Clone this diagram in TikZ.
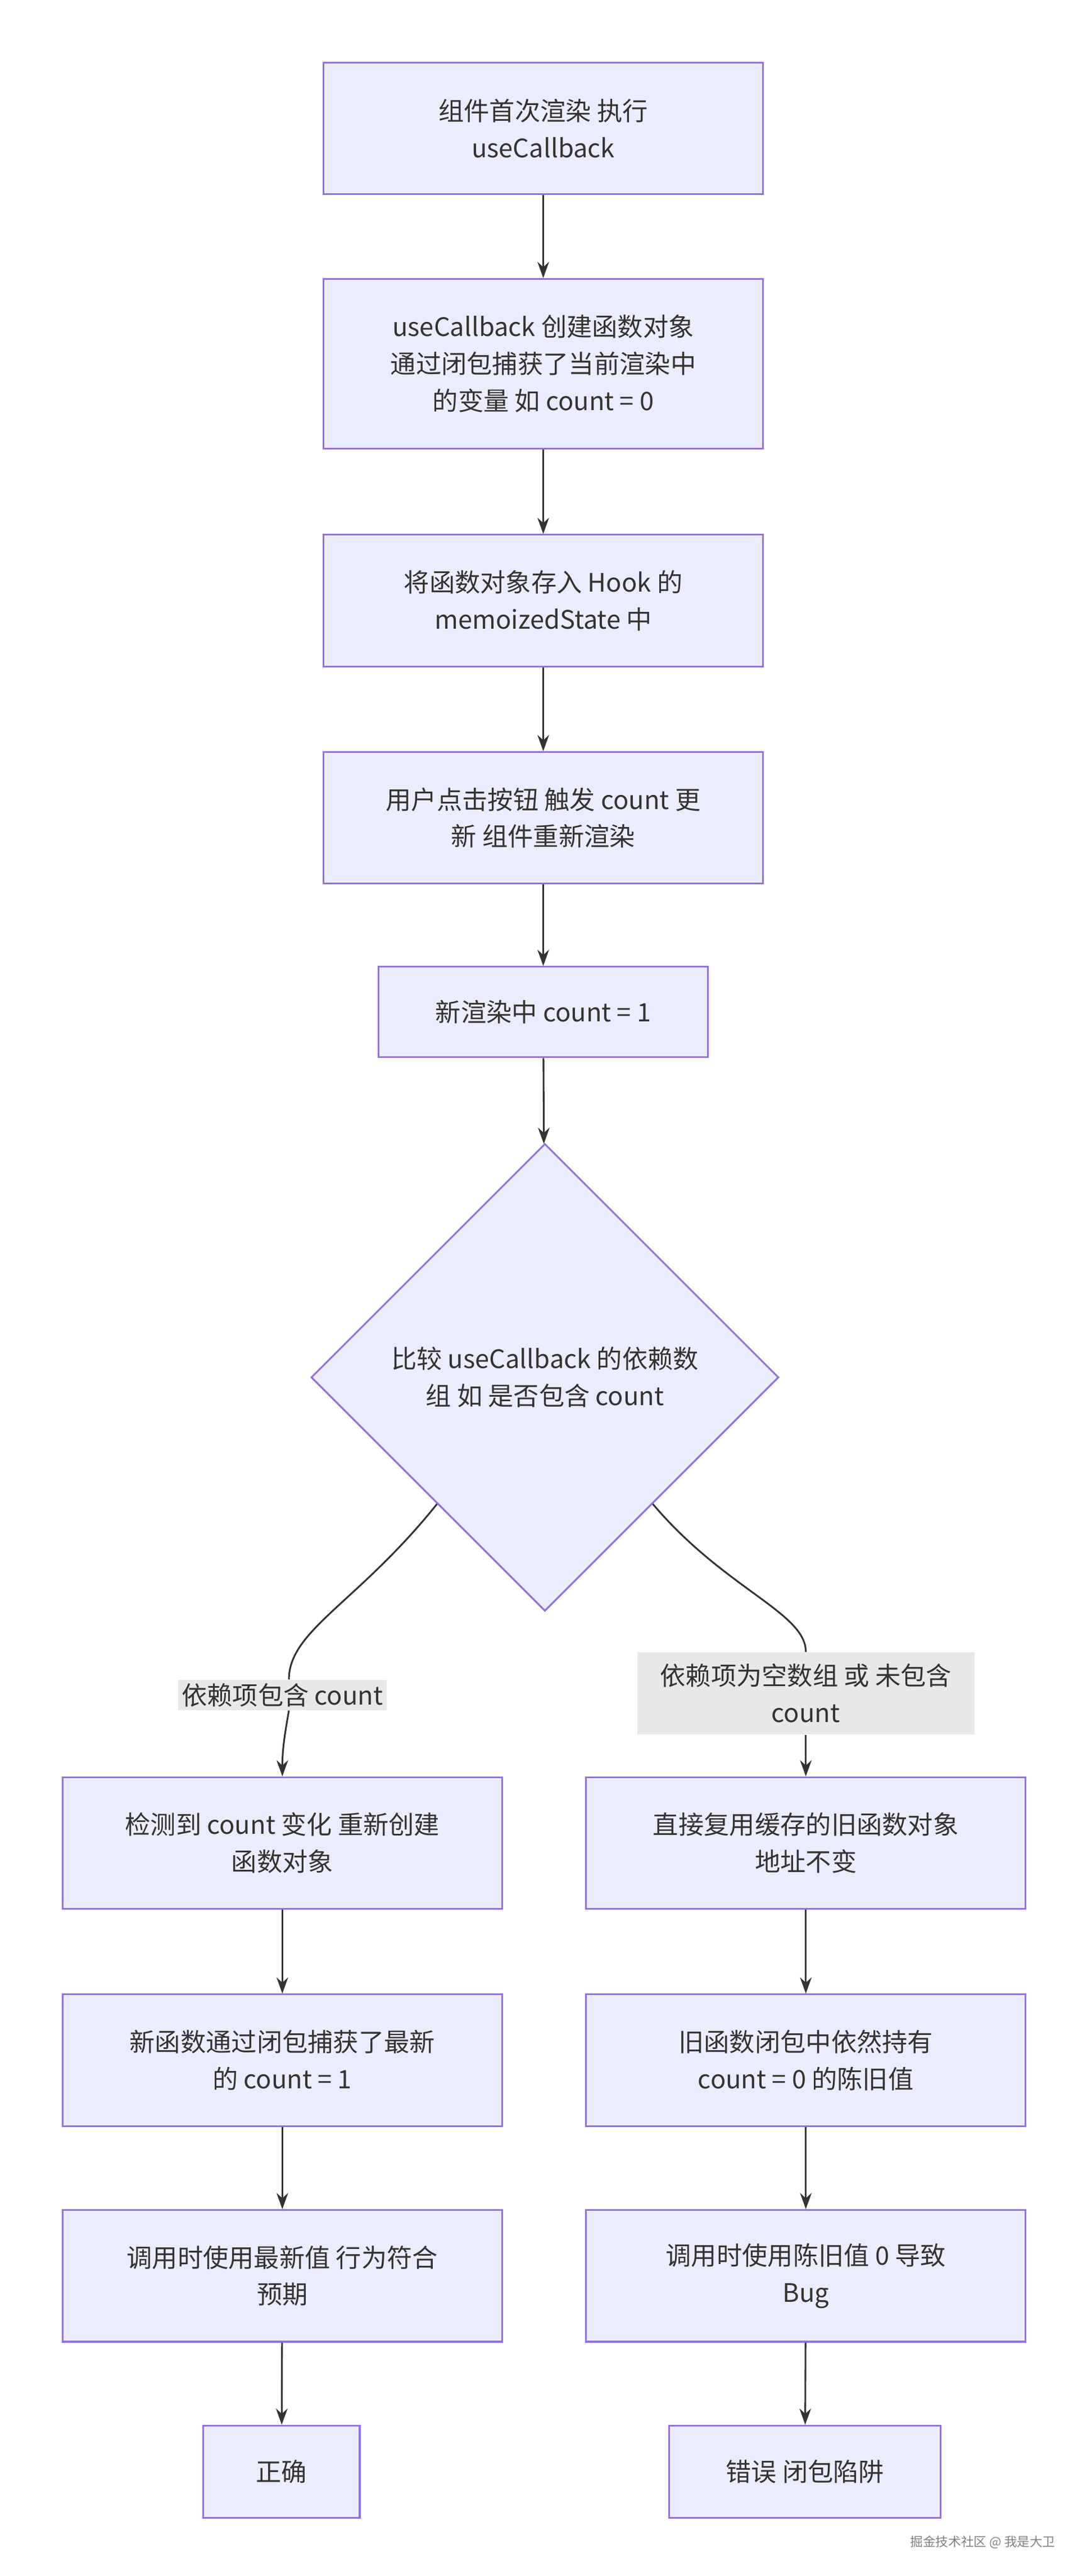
\documentclass[tikz,border=0pt]{standalone}
\usepackage{fontspec}
\setmainfont{Noto Sans CJK SC}
\usetikzlibrary{shapes.geometric,arrows.meta,calc}
\definecolor{boxfill}{HTML}{ECECFF}
\definecolor{boxline}{HTML}{9370DB}
\definecolor{txt}{HTML}{333333}
\definecolor{lblbg}{HTML}{E8E8E8}
\begin{document}
\begin{tikzpicture}[
  every node/.style = {text=txt, font=\fontsize{22}{32}\selectfont, align=center},
  box/.style = {rectangle, draw=boxline, fill=boxfill, line width=1.5pt, minimum width=13.35cm, minimum height=4cm},
  small/.style = {box, minimum width=10cm, minimum height=2.75cm},
  lbl/.style = {fill=lblbg, inner sep=3pt},
  link/.style = {draw=txt, line width=1.5pt},
  arr/.style = {link, -{Stealth[length=14pt,width=10pt]}}]
\useasboundingbox (0,0) rectangle (33,-78.27);
% main column
\node[box] (a) at (16.5,-3.9) {组件首次渲染 执行\\useCallback};
\node[box, minimum height=5.15cm] (b) at (16.5,-11.05) {useCallback 创建函数对象\\通过闭包捕获了当前渲染中\\的变量 如 count = 0};
\node[box] (c) at (16.5,-18.25) {将函数对象存入 Hook 的\\memoizedState 中};
\node[box] (e) at (16.5,-24.85) {用户点击按钮 触发 count 更\\新 组件重新渲染};
\node[small] (f) at (16.5,-30.75) {新渲染中 count = 1};
\node[diamond, draw=boxline, fill=boxfill, line width=1.5pt, minimum width=14.2cm, minimum height=14.2cm, inner sep=0pt] (g) at (16.55,-41.85) {比较 useCallback 的依赖数\\组 如 是否包含 count};
% edge labels
\node[lbl] (yes) at (8.575,-51.5) {依赖项包含 count};
\node[lbl, minimum width=10.25cm, minimum height=2.5cm] (no) at (24.475,-51.45) {依赖项为空数组 或 未包含\\count};
% left branch
\node[box] (h) at (8.575,-56) {检测到 count 变化 重新创建\\函数对象};
\node[box] (i) at (8.575,-62.6) {新函数通过闭包捕获了最新\\的 count = 1};
\node[box] (j) at (8.575,-69.15) {调用时使用最新值 行为符合\\预期};
\node[box, minimum width=4.75cm, minimum height=2.8cm] (k) at (8.55,-75.1) {正确};
% right branch
\node[box] (l) at (24.475,-56) {直接复用缓存的旧函数对象\\地址不变};
\node[box] (m) at (24.475,-62.6) {旧函数闭包中依然持有\\count = 0 的陈旧值};
\node[box] (n) at (24.475,-69.15) {调用时使用陈旧值 0 导致\\Bug};
\node[box, minimum width=8.25cm, minimum height=2.8cm] (o) at (24.45,-75.1) {错误 闭包陷阱};
\node[text=gray, font=\fontsize{11}{13}\selectfont] (wm) at (29.85,-77.25) {掘金技术社区 @ 我是大卫};
% connectors
\path[arr] (a) -- (b);
\path[arr] (b) -- (c);
\path[arr] (c) -- (e);
\path[arr] (e) -- (f);
\path[arr] (f) -- (g);
\coordinate (gl) at ($(g.west)!0.54!(g.south)$);
\coordinate (gr) at ($(g.east)!0.54!(g.south)$);
\path[link] (gl) .. controls +(-2.4,-3) and +(0,1.5) .. ($(yes.north)+(0.2,0)$);
\path[arr] ($(yes.south)+(0.2,0)$) to[out=-100, in=90] (h.north);
\path[link] (gr) .. controls +(2.2,-2.6) and +(0,1.2) .. (no.north);
\path[arr] (no.south) -- (l.north);
\path[arr] (h) -- (i);
\path[arr] (i) -- (j);
\path[arr] (j) -- (k);
\path[arr] (l) -- (m);
\path[arr] (m) -- (n);
\path[arr] (n) -- (o);
\end{tikzpicture}
\end{document}
